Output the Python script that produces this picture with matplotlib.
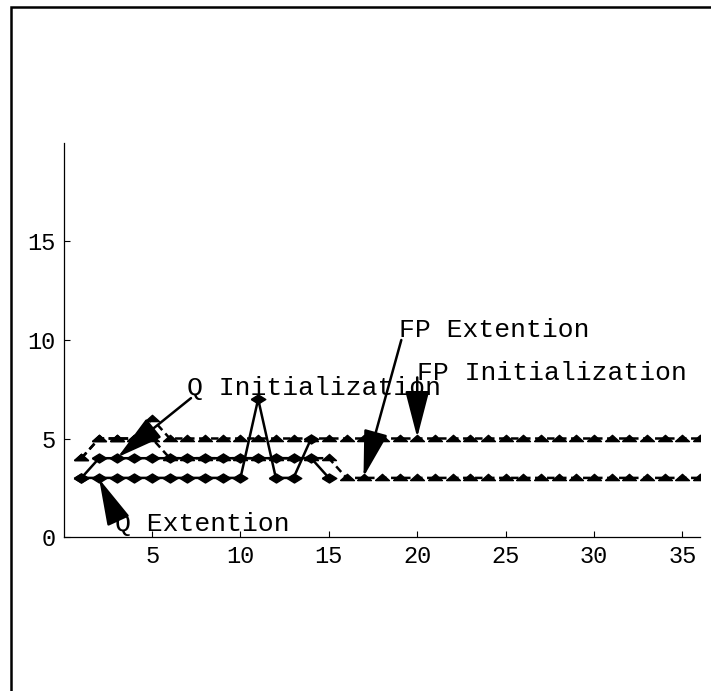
import matplotlib
matplotlib.use("Agg")
import matplotlib.pyplot as plt
from matplotlib.patches import Rectangle

# ---- data ----
x_q_ext = [1, 2, 3, 4, 5, 6, 7, 8, 9, 10, 11, 12, 13, 14]
q_ext = [3, 3, 3, 3, 3, 3, 3, 3, 3, 3, 7, 3, 3, 5]

x_q_init = [1, 2, 3, 4, 5, 6, 7, 8, 9, 10, 11, 12, 13, 14, 15]
q_init = [3, 4, 4, 4, 4, 4, 4, 4, 4, 4, 4, 4, 4, 4, 3]

x_fp = list(range(1, 37))
fp_init = [4, 5, 5, 5, 6, 5, 5, 5, 5, 5, 5, 5, 5, 5, 5, 5, 5, 5,
           5, 5, 5, 5, 5, 5, 5, 5, 5, 5, 5, 5, 5, 5, 5, 5, 5, 5]
fp_ext = [4, 5, 5, 5, 5, 4, 4, 4, 4, 4, 4, 4, 4, 4, 4, 3, 3, 3,
          3, 3, 3, 3, 3, 3, 3, 3, 3, 3, 3, 3, 3, 3, 3, 3, 3, 3]

x_ticks = [5, 10, 15, 20, 25, 30, 35]
y_ticks = [0, 5, 10, 15]

labels = ["Q Extention", "Q Initialization", "FP Extention", "FP Initialization"]
label_pos = [(2.9, 0.65), (7.0, 7.55), (18.95, 10.5), (20.0, 8.35)]
arrow_tail = [(3.05, 0.9), (7.2, 7.05), (19.1, 10.0), (20.0, 8.1)]
arrow_tip = [(2.0, 2.95), (3.05, 4.05), (16.96, 3.05), (20.0, 5.05)]

# ---- figure ----
FONT = "Liberation Mono"
fig = plt.figure(figsize=(7.11, 6.91), dpi=100)
ax = fig.add_axes([63.75 / 711, 1 - 537 / 691, (700 - 63.75) / 711, (537 - 143) / 691])

diamond = [(-1, 0), (0, 0.62), (1, 0), (0, -0.62), (-1, 0)]
triangle = [(-1, -0.3), (0, 0.6), (1, -0.3), (-1, -0.3)]

ax.plot(x_q_ext, q_ext, color="black", lw=1.8, marker=diamond, ms=10.5)
ax.plot(x_q_init, q_init, color="black", lw=1.8, marker=diamond, ms=10.5)
ax.plot(x_fp, fp_init, color="black", lw=1.8, linestyle=(0, (3, 1.8)),
        marker=triangle, ms=10)
ax.plot(x_fp, fp_ext, color="black", lw=1.8, linestyle=(0, (3, 1.8)),
        marker=triangle, ms=10)

ax.set_xlim(0, 36)
ax.set_ylim(0, 20)
ax.set_xticks(x_ticks)
ax.set_yticks(y_ticks)
ax.spines["top"].set_visible(False)
ax.spines["right"].set_visible(False)
for s in ("left", "bottom"):
    ax.spines[s].set_linewidth(0.9)
ax.tick_params(direction="in", length=4, width=0.8, pad=6, labelsize=17)
for lab in ax.get_xticklabels() + ax.get_yticklabels():
    lab.set_family(FONT)

for (lx, ly), txt in zip(label_pos, labels):
    ax.text(lx, ly, txt, family=FONT, fontsize=19, ha="left", va="center",
            zorder=6)
for tail, tip in zip(arrow_tail, arrow_tip):
    ax.annotate("", xy=tip, xytext=tail,
                arrowprops=dict(arrowstyle="-|>,head_length=2.9,head_width=0.75",
                                mutation_scale=10, color="black", lw=1.8,
                                shrinkA=0, shrinkB=0),
                zorder=7, annotation_clip=False)

# outer frame (only top and left visible)
fig.add_artist(Rectangle((11 / 711, -0.1), 1.2, 1 - 7 / 691 + 0.1,
                         transform=fig.transFigure, fill=False,
                         edgecolor="black", lw=1.8))

fig.savefig("out.png", dpi=100)
